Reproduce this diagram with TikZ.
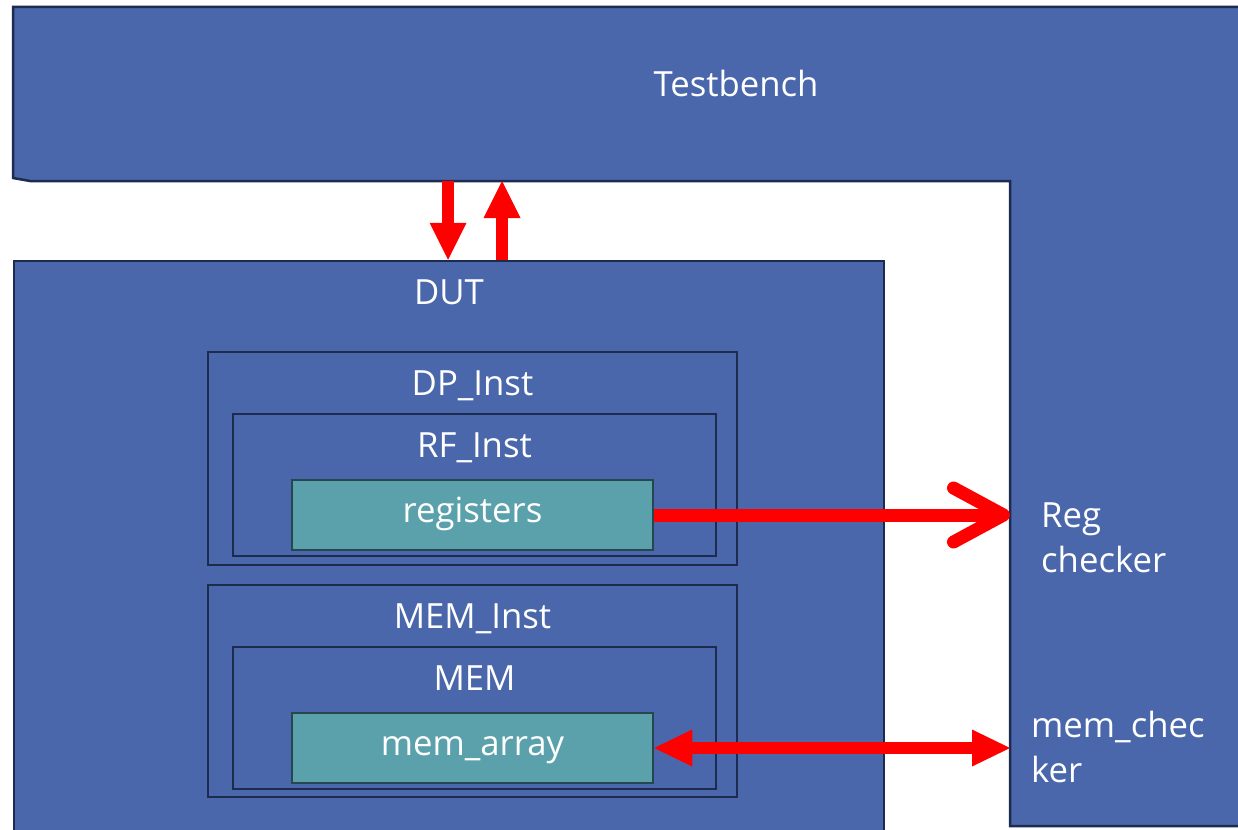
\documentclass[tikz,border=0pt]{standalone}
\usepackage{fontspec}
\setmainfont{Open Sans}
\usepackage{tikz}
\usetikzlibrary{arrows.meta, positioning, fit}
\definecolor{tbblue}{RGB}{74,103,172}
\definecolor{edgenavy}{RGB}{28,43,78}
\definecolor{cellteal}{RGB}{90,161,171}
\definecolor{celledge}{RGB}{38,70,80}
\definecolor{sigred}{RGB}{255,0,0}
\tikzset{
  tbshape/.style={draw=edgenavy, fill=tbblue, line width=2.5pt},
  blk/.style={rectangle, draw=edgenavy, fill=tbblue, line width=2.5pt, inner sep=0pt},
  inst/.style={rectangle, draw=edgenavy, line width=2.5pt, inner sep=0pt},
  cell/.style={rectangle, draw=celledge, fill=cellteal, line width=2.5pt,
    minimum width=361pt, minimum height=70pt, inner sep=0pt,
    text height=24pt, text depth=10pt, text=white},
  lbl/.style={anchor=base, text=white, inner sep=0pt},
  note/.style={anchor=base west, align=left, text=white, inner sep=0pt},
  bus/.style={-{Triangle[width=37pt, length=37pt, line width=0pt]}, line width=12pt, draw=sigred},
  probe/.style={-{Straight Barb[round, length=50pt, width=54pt]}, line width=13pt, draw=sigred},
  port/.style={{Triangle[width=37pt, length=38pt, line width=0pt]}-{Triangle[width=37pt, length=38pt, line width=0pt]},
    line width=12pt, draw=sigred}
}
\begin{document}
\begin{tikzpicture}[x=1pt, y=-1pt, font=\fontsize{34.7}{44.5}\selectfont]
  \useasboundingbox (0,0) rectangle (1238,829);

  % Testbench
  \draw[tbshape] (13,7) -- (1260,7) -- (1260,826) -- (1010,826)
    -- (1010,181) coordinate (tbcorner) -- (30,181) -- (13,178) -- cycle;
  \node[lbl] (tblbl) at (736,97) {Testbench};
  \coordinate (tbin) at (448,181);
  \coordinate (tbout) at (502,181);

  % DUT
  \node[blk, fit={(14,261) (884,870)}] (dut) {};
  \node[lbl] (dutlbl) at ([yshift=-45pt]dut.north) {DUT};

  % DP_Inst / RF_Inst
  \node[inst, fit={(208,352) (737,565)}] (dp) {};
  \node[lbl] (dplbl) at ([yshift=-45pt]dp.north) {DP\_Inst};
  \node[inst, fit={(233,414) (716,556)}] (rf) {};
  \node[lbl] (rflbl) at ([yshift=-45pt]rf.north) {RF\_Inst};
  \node[cell] (registers) at (472.5,515) {registers};

  % MEM_Inst / MEM
  \node[inst, fit={(208,585) (737,797)}] (meminst) {};
  \node[lbl] (meminstlbl) at ([yshift=-45pt]meminst.north) {MEM\_Inst};
  \node[inst, fit={(233,647) (716,789)}] (mem) {};
  \node[lbl] (memlbl) at ([yshift=-45pt]mem.north) {MEM};
  \node[cell] (memarray) at (472.5,748) {mem\_array};

  % checkers (base is the last line)
  \node[note] (regchk) at (1041,572) {Reg\\checker};
  \node[note] (memchk) at (1031,782) {mem\_chec\\ker};

  \draw[bus] (tbin) -- (tbin |- dut.north);
  \draw[bus] (tbout |- dut.north) -- (tbout);
  \draw[probe] (registers.east) -- (registers.east -| tbcorner);
  \draw[port] (memarray.east) -- (memarray.east -| tbcorner);
\end{tikzpicture}
\end{document}
